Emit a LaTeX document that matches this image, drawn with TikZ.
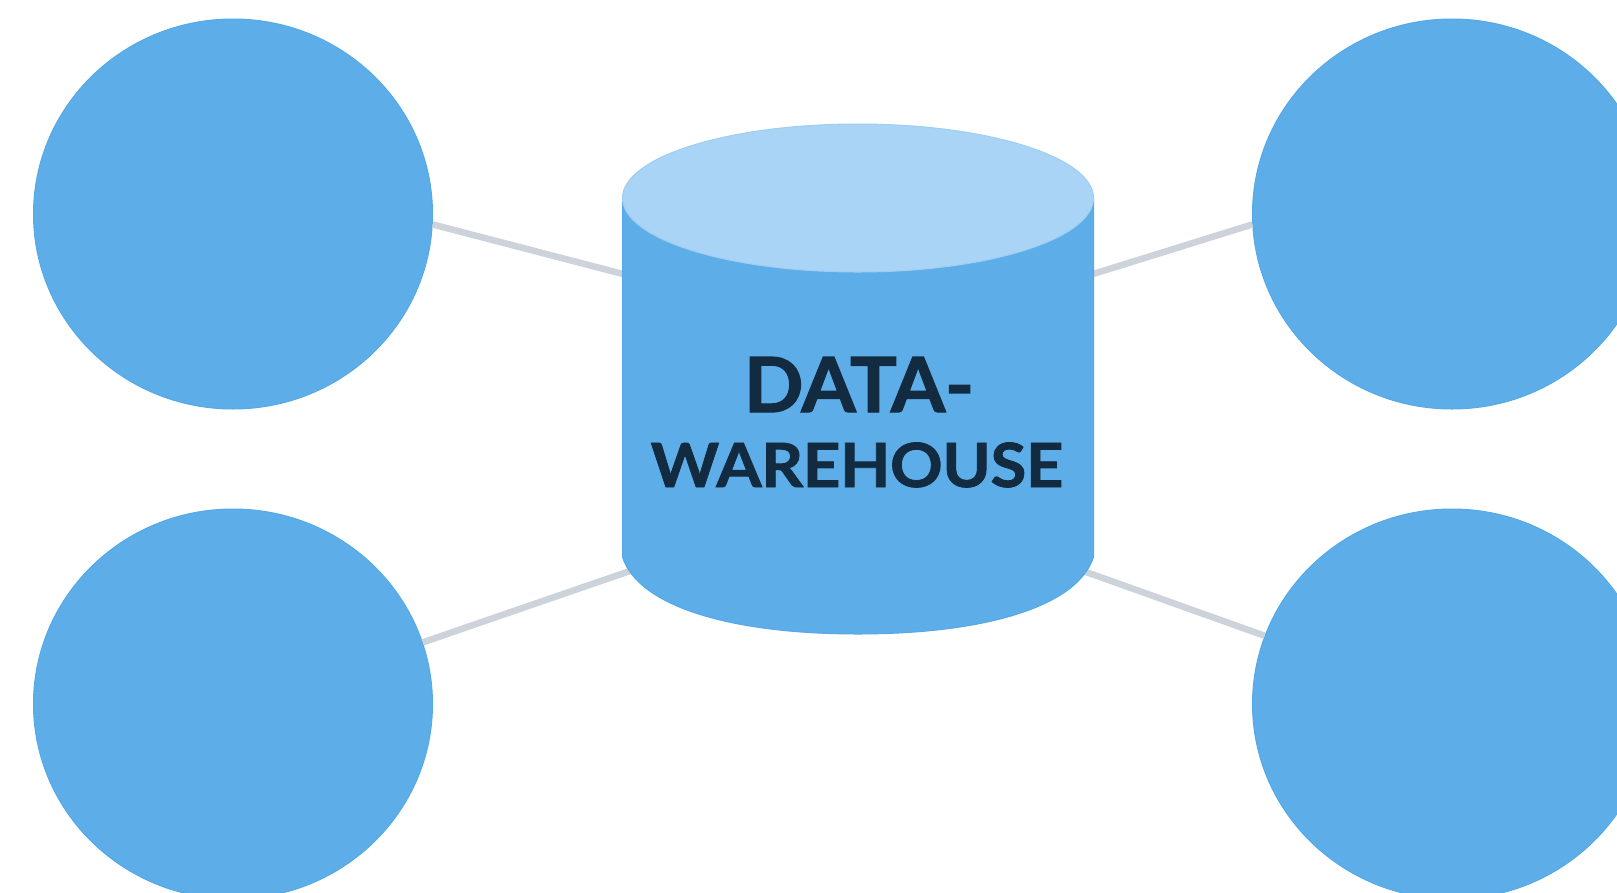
\documentclass[tikz,border=0pt]{standalone}
\usepackage{fontspec}
\usetikzlibrary{shapes.geometric}
\newfontfamily\latofont[BoldFeatures={FakeBold=1.6,FakeStretch=1.03,LetterSpace=-0.5}]{Lato}
\newfontfamily\latowide[BoldFeatures={FakeBold=1.3,FakeStretch=1.07,LetterSpace=-0.6}]{Lato}
\definecolor{blobfill}{HTML}{5DAEE8}
\definecolor{blobrim}{HTML}{55A9E8}
\definecolor{cyltop}{HTML}{A9D4F5}
\definecolor{linkgray}{HTML}{CDD3DA}
\definecolor{labelink}{HTML}{122B40}
\tikzset{
  blob/.style={ellipse,fill=blobfill,draw=blobrim,line width=1pt,minimum width=399pt,minimum height=390pt,inner sep=0pt},
  link/.style={draw=linkgray,line width=6.5pt},
  biglabel/.style={text=labelink,anchor=base,inner sep=0pt,font=\latofont\bfseries\fontsize{76pt}{76pt}\selectfont},
  sublabel/.style={text=labelink,anchor=base,inner sep=0pt,font=\latowide\bfseries\fontsize{61pt}{61pt}\selectfont},
}
\begin{document}
\begin{tikzpicture}[x=1pt,y=-1pt]
\useasboundingbox (0,0) rectangle (1617,892);
\clip (0,0) rectangle (1617,892);
\fill[white] (0,0) rectangle (1617,892);
% end points of the connectors on the cylinder
\coordinate (portTL) at (623,274);
\coordinate (portTR) at (1093,274);
\coordinate (portBL) at (630,571);
\coordinate (portBR) at (1086,572);
% circles
\node[blob] (tl) at (233,214) {};
\node[blob] (tr) at (1452,214) {};
\node[blob] (bl) at (233,704) {};
\node[blob] (br) at (1452,704) {};
% connectors
\draw[link] (tl.-3) -- (portTL);
\draw[link] (tr.183) -- (portTR);
\draw[link] (bl.18) -- (portBL);
\draw[link] (br.160) -- (portBR);
% cylinder
\path[fill=blobfill,draw=blobrim,line width=1pt]
  (622.5,198) -- (622.5,557)
  .. controls (638,606) and (730,634) .. (858,634)
  .. controls (986,634) and (1078,606) .. (1093.5,557)
  -- (1093.5,198) -- cycle;
\path[fill=cyltop,draw=cyltop!85!blobfill,line width=1pt]
  (858,198) ellipse[x radius=235.5,y radius=74];
% label
\node[biglabel] (l1) at (859,412) {DATA-};
\node[sublabel] (l2) at (857,487) {W\kern-3pt AREHOUSE};
\end{tikzpicture}
\end{document}
